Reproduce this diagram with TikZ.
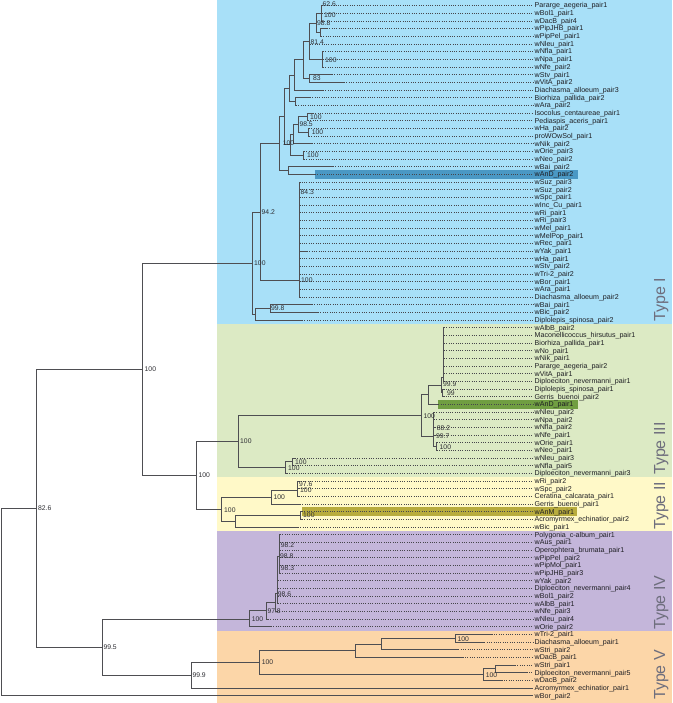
\documentclass[tikz,border=0pt]{standalone}
\usepackage{fontspec}
\setmainfont{Liberation Sans}
\definecolor{bgblue}{RGB}{168,224,248}
\definecolor{bggreen}{RGB}{220,234,196}
\definecolor{bgyellow}{RGB}{255,249,200}
\definecolor{bgpurple}{RGB}{196,182,218}
\definecolor{bgorange}{RGB}{252,214,168}
\definecolor{hlblue}{RGB}{74,152,196}
\definecolor{hlgreen}{RGB}{112,158,66}
\definecolor{hlolive}{RGB}{184,172,62}
\definecolor{brc}{RGB}{78,78,82}
\definecolor{dotc}{RGB}{70,70,75}
\definecolor{labc}{RGB}{30,30,35}
\definecolor{bsc}{RGB}{45,45,50}
\definecolor{typec}{RGB}{110,110,125}
\newcommand\leaffont{\fontsize{7.1}{8}\selectfont}
\newcommand\bsfont{\fontsize{6.8}{8}\selectfont}
\newcommand\typefont{\fontsize{16}{18}\selectfont}
\newcommand\LeafAt[3]{%
  \coordinate (t#1) at (#2,{ry(#1)});
  \node[leaflab] (L#1) at (534.5,{ry(#1)+2.4}) {#3};}
\newcommand\Boot[4]{\node[bs] (#1) at (#2,#3) {#4};}
\newcommand\Edge[2]{\draw[br] (#1) |- (#2);}
\begin{document}
\begin{tikzpicture}[x=1pt,y=-1pt,
  declare function={ry(\i)=5.6+7.667*(\i-1);},
  br/.style={draw=brc, line width=0.75pt},
  dotl/.style={draw=dotc, line width=0.55pt, dash pattern=on 0.6pt off 1.7pt},
  leaflab/.style={anchor=base west, inner sep=0pt, font=\leaffont, text=labc},
  bs/.style={anchor=west, inner sep=0pt, font=\bsfont, text=bsc},
  typelab/.style={rotate=90, anchor=base west, inner sep=0pt, font=\typefont, text=typec}]
\useasboundingbox (0,0) rectangle (672,703);
\fill[white] (0,0) rectangle (672,703);
\fill[bgblue] (217,0) rectangle (672,323.8);
\fill[bggreen] (217,323.8) rectangle (672,477.2);
\fill[bgyellow] (217,477.2) rectangle (672,530.7);
\fill[bgpurple] (217,530.7) rectangle (672,630.5);
\fill[bgorange] (217,630.5) rectangle (672,703);
% highlights
\fill[hlblue] (315,170.1) rectangle (578,178.6);
\fill[hlgreen] (438.3,400.1) rectangle (578,408.6);
\fill[hlolive] (301.7,507.4) rectangle (577,515.9);
% leaves: Type I
\LeafAt{1}{322}{Pararge\_aegeria\_pair1}
\LeafAt{2}{322}{wBol1\_pair1}
\LeafAt{3}{322}{wDacB\_pair4}
\LeafAt{4}{327}{wPipJHB\_pair1}
\LeafAt{5}{321}{wPipPel\_pair1}
\LeafAt{6}{310}{wNleu\_pair1}
\LeafAt{7}{323}{wNfla\_pair1}
\LeafAt{8}{323}{wNpa\_pair1}
\LeafAt{9}{323}{wNfe\_pair2}
\LeafAt{10}{332}{wStv\_pair1}
\LeafAt{11}{344}{wVitA\_pair2}
\LeafAt{12}{323}{Diachasma\_alloeum\_pair3}
\LeafAt{13}{310}{Biorhiza\_pallida\_pair2}
\LeafAt{14}{296}{wAra\_pair2}
\LeafAt{15}{313}{Isocolus\_centaureae\_pair1}
\LeafAt{16}{308}{Pediaspis\_aceris\_pair1}
\LeafAt{17}{309}{wHa\_pair2}
\LeafAt{18}{309}{proWOwSol\_pair1}
\LeafAt{19}{312}{wNik\_pair2}
\LeafAt{20}{304}{wOrie\_pair3}
\LeafAt{21}{304}{wNeo\_pair2}
\LeafAt{22}{333}{wBai\_pair2}
\LeafAt{23}{315}{wAnD\_pair2}
\LeafAt{24}{299.5}{wSuz\_pair3}
\LeafAt{25}{299.5}{wSuz\_pair2}
\LeafAt{26}{299.5}{wSpc\_pair1}
\LeafAt{27}{299.5}{wInc\_Cu\_pair1}
\LeafAt{28}{299.5}{wRi\_pair1}
\LeafAt{29}{299.5}{wRi\_pair3}
\LeafAt{30}{299.5}{wMel\_pair1}
\LeafAt{31}{299.5}{wMelPop\_pair1}
\LeafAt{32}{299.5}{wRec\_pair1}
\LeafAt{33}{307}{wYak\_pair1}
\LeafAt{34}{299.5}{wHa\_pair1}
\LeafAt{35}{299.5}{wStv\_pair2}
\LeafAt{36}{299.5}{wTri-2\_pair2}
\LeafAt{37}{299.5}{wBor\_pair1}
\LeafAt{38}{299.5}{wAra\_pair1}
\LeafAt{39}{299.5}{Diachasma\_alloeum\_pair2}
\LeafAt{40}{312}{wBai\_pair1}
\LeafAt{41}{318}{wBic\_pair2}
\LeafAt{42}{302}{Diplolepis\_spinosa\_pair2}
% Type III
\LeafAt{43}{444}{wAlbB\_pair2}
\LeafAt{44}{444}{Maconellicoccus\_hirsutus\_pair1}
\LeafAt{45}{444}{Biorhiza\_pallida\_pair1}
\LeafAt{46}{444}{wNo\_pair1}
\LeafAt{47}{444}{wNik\_pair1}
\LeafAt{48}{444}{Pararge\_aegeria\_pair2}
\LeafAt{49}{444}{wVitA\_pair1}
\LeafAt{50}{444}{Diploeciton\_nevermanni\_pair1}
\LeafAt{51}{443.5}{Diplolepis\_spinosa\_pair1}
\LeafAt{52}{443.5}{Gerris\_buenoi\_pair2}
\LeafAt{53}{438.3}{wAnD\_pair1}
\LeafAt{54}{434}{wNleu\_pair2}
\LeafAt{55}{434}{wNpa\_pair2}
\LeafAt{56}{434.5}{wNfla\_pair2}
\LeafAt{57}{434.5}{wNfe\_pair1}
\LeafAt{58}{437}{wOrie\_pair1}
\LeafAt{59}{437}{wNeo\_pair1}
\LeafAt{60}{295}{wNleu\_pair3}
\LeafAt{61}{293}{wNfla\_pair5}
\LeafAt{62}{287}{Diploeciton\_nevermanni\_pair3}
% Type II
\LeafAt{63}{298.5}{wRi\_pair2}
\LeafAt{64}{298.5}{wSpc\_pair2}
\LeafAt{65}{298.5}{Ceratina\_calcarata\_pair1}
\LeafAt{66}{300}{Gerris\_buenoi\_pair1}
\LeafAt{67}{302}{wAnM\_pair1}
\LeafAt{68}{302}{Acromyrmex\_echinatior\_pair2}
\LeafAt{69}{298}{wBic\_pair1}
% Type IV
\LeafAt{70}{280}{Polygonia\_c-album\_pair1}
\LeafAt{71}{280}{wAus\_pair1}
\LeafAt{72}{280}{Operophtera\_brumata\_pair1}
\LeafAt{73}{280}{wPipPel\_pair2}
\LeafAt{74}{280}{wPipMol\_pair1}
\LeafAt{75}{280}{wPipJHB\_pair3}
\LeafAt{76}{278}{wYak\_pair2}
\LeafAt{77}{278}{Diploeciton\_nevermanni\_pair4}
\LeafAt{78}{278}{wBol1\_pair2}
\LeafAt{79}{278}{wAlbB\_pair1}
\LeafAt{80}{277}{wNfe\_pair3}
\LeafAt{81}{268}{wNleu\_pair4}
\LeafAt{82}{271}{wOrie\_pair2}
% Type V
\LeafAt{83}{491.7}{wTri-2\_pair1}
\LeafAt{84}{484.3}{Diachasma\_alloeum\_pair1}
\LeafAt{85}{458.3}{wStri\_pair2}
\LeafAt{86}{462.7}{wDacB\_pair1}
\LeafAt{87}{515}{wStri\_pair1}
\LeafAt{88}{526.7}{Diploeciton\_nevermanni\_pair5}
\LeafAt{89}{501.7}{wDacB\_pair2}
\LeafAt{90}{533}{Acromyrmex\_echinatior\_pair1}
\LeafAt{91}{533}{wBor\_pair2}
% internal nodes
\coordinate (root) at (1,602);
\coordinate (n826) at (36.7,508.4);
\coordinate (n100b) at (142,369.2);
\coordinate (nT1) at (252,263.1);
\coordinate (n94) at (260,212);
\coordinate (nA) at (279,143.4);
\coordinate (nB) at (284,116.4);
\coordinate (nC) at (289,88.2);
\coordinate (n294) at (294,74.9);
\coordinate (n303) at (303,59.8);
\coordinate (n814) at (309,41.2);
\coordinate (n988) at (316,23);
\coordinate (nP) at (321,13.3);
\coordinate (nPP) at (320,32.5);
\coordinate (n100d) at (322,59.3);
\coordinate (n83) at (309,78.4);
\coordinate (n295) at (295,101.4);
\coordinate (nD) at (290,144.6);
\coordinate (nE) at (293,134);
\coordinate (n985) at (298,124.4);
\coordinate (n100e) at (307,116.8);
\coordinate (n100f) at (308,132.1);
\coordinate (n303b) at (303,155.1);
\coordinate (nBai) at (288,170.4);
\coordinate (n100c) at (299,280.6);
\coordinate (nlow) at (255,314.2);
\coordinate (n998) at (270,308.4);
\coordinate (n100k) at (196,475.4);
\coordinate (n100h) at (238.3,441.5);
\coordinate (nT3) at (421.7,415.7);
\coordinate (nU) at (428.3,394.7);
\coordinate (n999) at (441.7,385);
\coordinate (nPoly) at (443,377);
\coordinate (n99) at (442.3,392.8);
\coordinate (nL) at (433.3,436.7);
\coordinate (n100g) at (436,446.4);
\coordinate (n100i) at (285.7,467.7);
\coordinate (n100j) at (292.3,461.8);
\coordinate (nT2) at (221.7,509.3);
\coordinate (n100l) at (271,497.2);
\coordinate (n100m) at (297.3,490.5);
\coordinate (n976) at (297.8,484.8);
\coordinate (n235) at (235,521.2);
\coordinate (n100n) at (300.7,515.4);
\coordinate (n995) at (102.7,647.5);
\coordinate (nT4) at (249.3,619.2);
\coordinate (n978) at (266,610.6);
\coordinate (n986) at (275.7,602.3);
\coordinate (nUp) at (277,593.3);
\coordinate (n982) at (279.3,556);
\coordinate (n999b) at (191,675.3);
\coordinate (n100o) at (259.3,662.6);
\coordinate (n355) at (355,650.6);
\coordinate (n381) at (381.7,643.9);
\coordinate (n100q) at (455,638.1);
\coordinate (n100p) at (483.3,674.6);
\coordinate (n495) at (495,668.8);
% dotted leaders
\foreach \k in {1,...,89} {\draw[dotl] (t\k) -- ([xshift=-1.5pt]t\k -| L\k.west);}
% edges
\Edge{root}{n826}\Edge{root}{t91}
\Edge{n826}{n100b}\Edge{n826}{n995}
\Edge{n100b}{nT1}\Edge{n100b}{n100k}
\Edge{nT1}{n94}\Edge{nT1}{nlow}
\Edge{n94}{nA}\Edge{n94}{n100c}
\Edge{nA}{nB}\Edge{nA}{nBai}
\Edge{nB}{nC}\Edge{nB}{nD}
\Edge{nC}{n294}\Edge{nC}{n295}
\Edge{n294}{n303}\Edge{n294}{t12}
\Edge{n303}{n814}\Edge{n303}{n83}
\Edge{n814}{n988}\Edge{n814}{t6}\Edge{n814}{n100d}
\Edge{n988}{nP}\Edge{n988}{nPP}
\Edge{nP}{t1}\Edge{nP}{t2}\Edge{nP}{t3}
\Edge{nPP}{t4}\Edge{nPP}{t5}
\Edge{n100d}{t7}\Edge{n100d}{t8}\Edge{n100d}{t9}
\Edge{n83}{t10}\Edge{n83}{t11}
\Edge{n295}{t13}\Edge{n295}{t14}
\Edge{nD}{nE}\Edge{nD}{n303b}
\Edge{nE}{n985}\Edge{nE}{t19}
\Edge{n985}{n100e}\Edge{n985}{n100f}
\Edge{n100e}{t15}\Edge{n100e}{t16}
\Edge{n100f}{t17}\Edge{n100f}{t18}
\Edge{n303b}{t20}\Edge{n303b}{t21}
\Edge{nBai}{t22}\Edge{nBai}{t23}
\foreach \k in {24,...,39} {\Edge{n100c}{t\k}}
\Edge{nlow}{n998}\Edge{nlow}{t42}
\Edge{n998}{t40}\Edge{n998}{t41}
\Edge{n100k}{n100h}\Edge{n100k}{nT2}
\Edge{n100h}{nT3}\Edge{n100h}{n100i}
\Edge{nT3}{nU}\Edge{nT3}{nL}
\Edge{nU}{n999}\Edge{nU}{t53}
\Edge{n999}{nPoly}\Edge{n999}{n99}
\foreach \k in {43,...,50} {\Edge{nPoly}{t\k}}
\Edge{n99}{t51}\Edge{n99}{t52}
\foreach \k in {54,...,57} {\Edge{nL}{t\k}}
\Edge{nL}{n100g}
\Edge{n100g}{t58}\Edge{n100g}{t59}
\Edge{n100i}{n100j}\Edge{n100i}{t62}
\Edge{n100j}{t60}\Edge{n100j}{t61}
\Edge{nT2}{n100l}\Edge{nT2}{n235}
\Edge{n100l}{n100m}\Edge{n100l}{t66}
\Edge{n100m}{n976}\Edge{n100m}{t65}
\Edge{n976}{t63}\Edge{n976}{t64}
\Edge{n235}{n100n}\Edge{n235}{t69}
\Edge{n100n}{t67}\Edge{n100n}{t68}
\Edge{n995}{nT4}\Edge{n995}{n999b}
\Edge{nT4}{n978}\Edge{nT4}{t82}
\Edge{n978}{n986}\Edge{n978}{t81}
\Edge{n986}{nUp}\Edge{n986}{t80}
\Edge{nUp}{n982}
\foreach \k in {76,...,79} {\Edge{nUp}{t\k}}
\foreach \k in {70,...,75} {\Edge{n982}{t\k}}
\Edge{n999b}{n100o}\Edge{n999b}{t90}
\Edge{n100o}{n355}\Edge{n100o}{n100p}
\Edge{n355}{n381}\Edge{n355}{t86}
\Edge{n381}{n100q}\Edge{n381}{t85}
\Edge{n100q}{t83}\Edge{n100q}{t84}
\Edge{n100p}{n495}\Edge{n100p}{t89}
\Edge{n495}{t87}\Edge{n495}{t88}
% bootstrap labels
\Boot{b1}{322.5}{4.5}{62.6}
\Boot{b2}{324}{15}{100}
\Boot{b3}{317}{23.3}{98.8}
\Boot{b4}{310.5}{42.3}{81.4}
\Boot{b5}{325}{60}{100}
\Boot{b6}{313}{78.5}{83}
\Boot{b7}{299.3}{124.4}{98.5}
\Boot{b8}{310}{116.8}{100}
\Boot{b9}{311.7}{132.5}{100}
\Boot{b10}{282.7}{143.4}{100}
\Boot{b11}{307}{155.5}{100}
\Boot{b12}{261.5}{212}{94.2}
\Boot{b13}{300.5}{192}{84.3}
\Boot{b14}{301}{280.6}{100}
\Boot{b15}{254}{263.1}{100}
\Boot{b16}{271}{308.4}{99.8}
\Boot{b17}{144.5}{369.2}{100}
\Boot{b18}{38}{508.4}{82.6}
\Boot{b19}{198.3}{475.4}{100}
\Boot{b20}{240}{441.5}{100}
\Boot{b21}{423.3}{415.7}{100}
\Boot{b22}{443}{384}{99.9}
\Boot{b23}{447}{393}{99}
\Boot{b24}{436.7}{427.7}{88.2}
\Boot{b25}{436}{436}{99.7}
\Boot{b26}{439.5}{446.7}{100}
\Boot{b27}{295}{461.7}{100}
\Boot{b28}{288}{468}{100}
\Boot{b29}{224}{510}{100}
\Boot{b30}{273.3}{497.5}{100}
\Boot{b31}{299}{484.3}{97.6}
\Boot{b32}{300}{490}{100}
\Boot{b33}{303}{515.4}{100}
\Boot{b34}{103.3}{647.5}{99.5}
\Boot{b35}{251.7}{619.2}{100}
\Boot{b36}{267.3}{611}{97.8}
\Boot{b37}{277.7}{594}{98.6}
\Boot{b38}{280.7}{545}{98.2}
\Boot{b39}{280}{556}{98.8}
\Boot{b40}{280.7}{567.7}{98.3}
\Boot{b41}{192.3}{675.5}{99.9}
\Boot{b42}{261.7}{662.6}{100}
\Boot{b43}{457.3}{639}{100}
\Boot{b44}{485.7}{675}{100}
% type labels
\node[typelab] (ty1) at (665,321.5) {Type I};
\node[typelab] (ty3) at (665,475) {Type III};
\node[typelab] (ty2) at (665,530) {Type II};
\node[typelab] (ty4) at (665,630) {Type IV};
\node[typelab] (ty5) at (665,700) {Type V};
\end{tikzpicture}
\end{document}
